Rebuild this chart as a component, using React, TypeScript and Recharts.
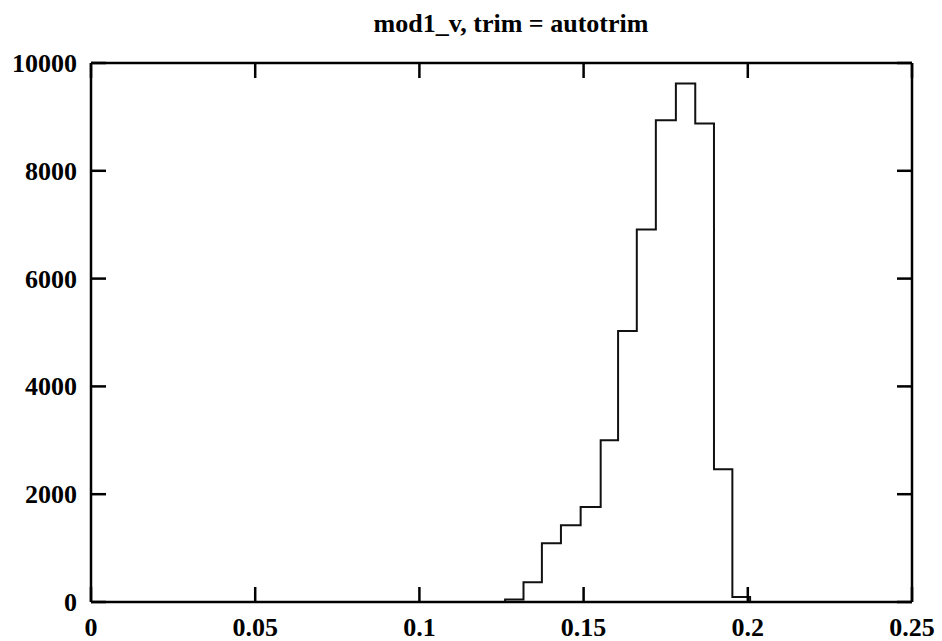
import React from "react";
import { ComposedChart, Line, XAxis, YAxis } from "recharts";

// Histogram bin left edges (last entry is the right edge of the last bin)
const binEdges = [0.1203, 0.1261, 0.1317, 0.1373, 0.1431, 0.1491, 0.1552, 0.1605, 0.1662, 0.1720, 0.1781, 0.1840, 0.1897, 0.1953, 0.2007, 0.2065];
// Counts per bin (value holds until next edge)
const binCounts = [0, 45, 365, 1090, 1425, 1763, 3000, 5028, 6912, 8937, 9618, 8876, 2462, 93, 0, 0];

const xTicks = [0, 0.05, 0.1, 0.15, 0.2, 0.25];
const xTickLabels = ["0", "0.05", "0.1", "0.15", "0.2", "0.25"];
const yTicks = [0, 2000, 4000, 6000, 8000, 10000];
const yTickLabels = ["0", "2000", "4000", "6000", "8000", "10000"];

const title = "mod1_v, trim = autotrim";

const data = binEdges.map((x, i) => ({ x, count: binCounts[i] }));

const FONT = "'Liberation Serif', 'Times New Roman', serif";
const TICK_LEN = 15;
const STROKE = "#000";

const BottomTick = (props: any) => {
  const { x, y, index } = props;
  return (
    <g>
      <line x1={x} y1={y} x2={x} y2={y - TICK_LEN} stroke={STROKE} strokeWidth={2.5} />
      <text x={x} y={y + 34} textAnchor="middle" fontFamily={FONT} fontWeight="bold" fontSize={26} fill="#000">
        {xTickLabels[index]}
      </text>
    </g>
  );
};

const TopTick = (props: any) => {
  const { x, y } = props;
  return <line x1={x} y1={y} x2={x} y2={y + TICK_LEN} stroke={STROKE} strokeWidth={2.5} />;
};

const LeftTick = (props: any) => {
  const { x, y, index } = props;
  return (
    <g>
      <line x1={x} y1={y} x2={x + TICK_LEN} y2={y} stroke={STROKE} strokeWidth={2.5} />
      <text x={x - 14} y={y + 9} textAnchor="end" fontFamily={FONT} fontWeight="bold" fontSize={26} fill="#000">
        {yTickLabels[index]}
      </text>
    </g>
  );
};

const RightTick = (props: any) => {
  const { x, y } = props;
  return <line x1={x} y1={y} x2={x - TICK_LEN} y2={y} stroke={STROKE} strokeWidth={2.5} />;
};

const axisLine = { stroke: STROKE, strokeWidth: 2.5 };

export default function App() {
  return (
    <div style={{ position: "absolute", left: 0, top: 0, width: 942, height: 641, background: "#fff" }}>
      <div
        style={{
          position: "absolute",
          left: 511,
          top: 11,
          transform: "translateX(-50%)",
          fontFamily: FONT,
          fontWeight: "bold",
          fontSize: 26,
          lineHeight: "26px",
          whiteSpace: "nowrap",
          color: "#000",
        }}
      >
        {title}
      </div>
      <ComposedChart width={942} height={641} data={data} margin={{ top: 0, right: 0, left: 0, bottom: 0 }}>
        <XAxis
          xAxisId="bottom"
          dataKey="x"
          type="number"
          domain={[0, 0.25]}
          ticks={xTicks}
          allowDataOverflow
          orientation="bottom"
          height={39}
          tickSize={0}
          tickMargin={0}
          tickLine={false}
          axisLine={axisLine}
          tick={<BottomTick />}
          interval={0}
        />
        <XAxis
          xAxisId="top"
          dataKey="x"
          type="number"
          domain={[0, 0.25]}
          ticks={xTicks}
          allowDataOverflow
          orientation="top"
          height={63}
          tickSize={0}
          tickMargin={0}
          tickLine={false}
          axisLine={axisLine}
          tick={<TopTick />}
          interval={0}
        />
        <YAxis
          yAxisId="left"
          type="number"
          domain={[0, 10000]}
          ticks={yTicks}
          allowDataOverflow
          orientation="left"
          width={91}
          tickSize={0}
          tickMargin={0}
          tickLine={false}
          axisLine={axisLine}
          tick={<LeftTick />}
          interval={0}
        />
        <YAxis
          yAxisId="right"
          type="number"
          domain={[0, 10000]}
          ticks={yTicks}
          allowDataOverflow
          orientation="right"
          width={30}
          tickSize={0}
          tickMargin={0}
          tickLine={false}
          axisLine={axisLine}
          tick={<RightTick />}
          interval={0}
        />
        <Line
          xAxisId="bottom"
          yAxisId="left"
          dataKey="count"
          type="stepAfter"
          stroke="#111"
          strokeWidth={2}
          dot={false}
          activeDot={false}
          isAnimationActive={false}
        />
      </ComposedChart>
    </div>
  );
}
